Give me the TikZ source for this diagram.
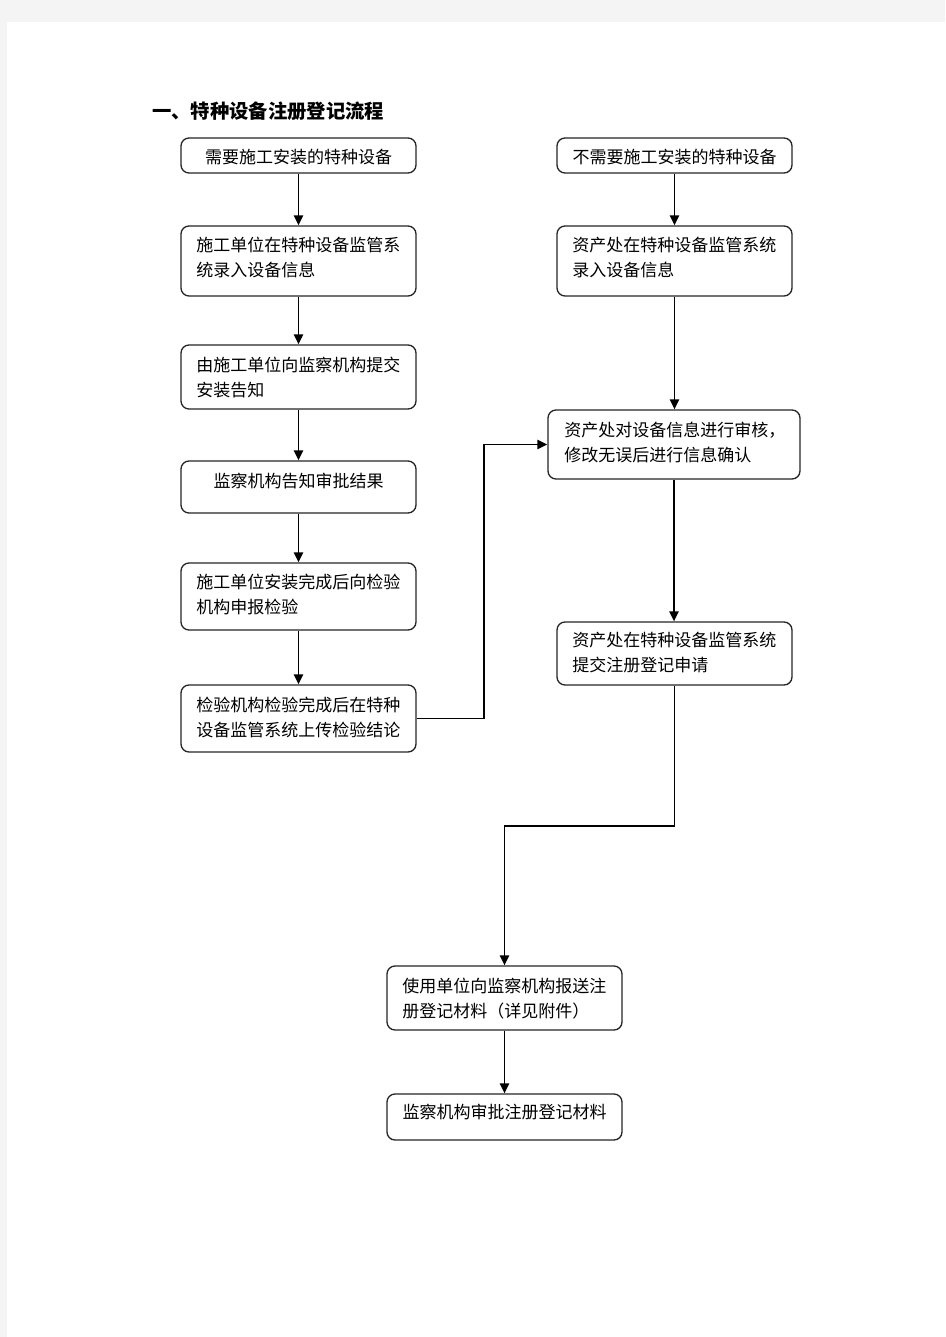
\documentclass[tikz,border=0pt]{standalone}
\usepackage{fontspec}
\setmainfont{Noto Sans CJK SC}
\usetikzlibrary{arrows.meta,fit}
\definecolor{pagebg}{HTML}{F4F4F4}
\begin{document}
\begin{tikzpicture}[x=0.75pt,y=-0.75pt,
  box/.style={draw=black!85, line width=1pt, rounded corners=6pt, inner sep=0pt},
  txt/.style={inner sep=0pt, font=\fontsize{12.75}{18.75}\selectfont, align=left},
  arr/.style={draw=black, line width=1.3pt, -{Triangle[length=7.5pt,width=7pt]}}]
\useasboundingbox (0,0) rectangle (945,1337);
\fill[pagebg] (0,0) rectangle (945,1337);
\fill[white] (7,22) rectangle (945,1337);

\node[anchor=west, inner sep=0pt, font=\fontsize{14.5}{17}\selectfont\bfseries] (title) at (152,111) {一、特种设备注册登记流程};

% left column
\node[box, fit={(181,138)(416,173)}] (b1) {};
\node[txt] (b1t) at (298.5,157) {需要施工安装的特种设备};
\node[box, fit={(181,226)(416,296)}] (b2) {};
\node[txt, anchor=north west] (b2t) at (196,237) {施工单位在特种设备监管系\\统录入设备信息};
\node[box, fit={(181,345)(416,409)}] (b3) {};
\node[txt, anchor=north west] (b3t) at (196,357) {由施工单位向监察机构提交\\安装告知};
\node[box, fit={(181,461)(416,513)}] (b4) {};
\node[txt] (b4t) at (298.5,481) {监察机构告知审批结果};
\node[box, fit={(181,563)(416,630)}] (b5) {};
\node[txt, anchor=north west] (b5t) at (196,574) {施工单位安装完成后向检验\\机构申报检验};
\node[box, fit={(181,685)(416,752)}] (b6) {};
\node[txt, anchor=north west] (b6t) at (196,697) {检验机构检验完成后在特种\\设备监管系统上传检验结论};

% right column
\node[box, fit={(557,138)(792,173)}] (r1) {};
\node[txt] (r1t) at (674.5,157) {不需要施工安装的特种设备};
\node[box, fit={(557,226)(792,296)}] (r2) {};
\node[txt, anchor=north west] (r2t) at (572,237) {资产处在特种设备监管系统\\录入设备信息};
\node[box, fit={(548,410)(800,479)}] (r3) {};
\node[txt, anchor=north west] (r3t) at (564,422) {资产处对设备信息进行审核，\\修改无误后进行信息确认};
\node[box, fit={(557,622)(792,685)}] (r4) {};
\node[txt, anchor=north west] (r4t) at (572,632) {资产处在特种设备监管系统\\提交注册登记申请};

% bottom
\node[box, fit={(387,966)(622,1030)}] (b7) {};
\node[txt, anchor=north west] (b7t) at (402,978) {使用单位向监察机构报送注\\册登记材料（详见附件）};
\node[box, fit={(387,1094)(622,1140)}] (b8) {};
\node[txt] (b8t) at (504.5,1112) {监察机构审批注册登记材料};

% connectors
\draw[arr] (b1) -- (b2);
\draw[arr] (b2) -- (b3);
\draw[arr] (b3) -- (b4);
\draw[arr] (b4) -- (b5);
\draw[arr] (b5) -- (b6);
\draw[arr] (r1.south) -- (r1.south |- r2.north);
\draw[arr] (r2.south) -- (r2.south |- r3.north);
\draw[arr] (r3.south) -- (r3.south |- r4.north);
\draw[arr] (b6.east) -- ++(67,0) |- (r3.west);
\draw[arr] (r4.south) -- ++(0,140) -| (b7.north);
\draw[arr] (b7) -- (b8);
\end{tikzpicture}
\end{document}
